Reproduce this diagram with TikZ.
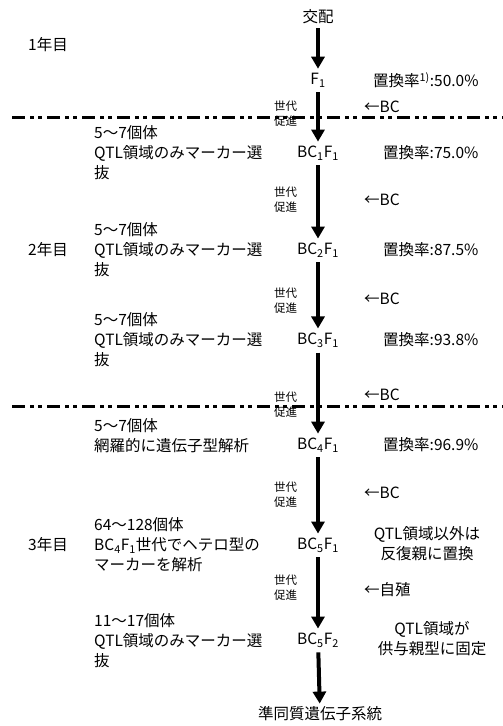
\documentclass[tikz,border=0pt]{standalone}
\usepackage{fontspec}
\setmainfont{Noto Sans CJK JP}
\usetikzlibrary{arrows.meta}

\begin{document}
\begin{tikzpicture}[x=1pt, y=-1pt,
    every node/.style={font=\fontsize{15.5}{20}\selectfont, inner sep=1pt},
    gen/.style={inner sep=2pt},
    note/.style={anchor=west, align=left},
    adv/.style={anchor=west, align=left, font=\fontsize{11.5}{15}\selectfont},
    flow/.style={line width=4pt, -{Triangle[width=13pt,length=12pt]}, shorten <=3pt, shorten >=2pt},
    yearline/.style={line width=3pt, dash pattern=on 13pt off 5pt on 4pt off 4pt on 4pt off 5pt}]
    \useasboundingbox (0,0) rectangle (503,726);
    \coordinate (line1a) at (12,117);
    \coordinate (line1b) at (503,117);
    \coordinate (line2a) at (12,406);
    \coordinate (line2b) at (503,406);
    \draw[yearline] (line1a) -- (line1b);
    \draw[yearline] (line2a) -- (line2b);

    \node (cross) at (318,17) {交配};
    \node[gen] (f1) at (318,80) {F\textsubscript{1}};
    \node[gen] (bc1) at (318,153) {BC\textsubscript{1}F\textsubscript{1}};
    \node[gen] (bc2) at (318,250) {BC\textsubscript{2}F\textsubscript{1}};
    \node[gen] (bc3) at (318,340) {BC\textsubscript{3}F\textsubscript{1}};
    \node[gen] (bc4) at (318,445) {BC\textsubscript{4}F\textsubscript{1}};
    \node[gen] (bc5) at (318,545) {BC\textsubscript{5}F\textsubscript{1}};
    \node[gen] (bc5f2) at (318,640) {BC\textsubscript{5}F\textsubscript{2}};
    \node (nil) at (320,714) {準同質遺伝子系統};

    \node[note] (year1) at (27,45) {1年目};
    \node[note] (year2) at (27,250) {2年目};
    \node[note] (year3) at (27,545) {3年目};

    \node[note] (sel1) at (93,153) {5〜7個体\\QTL領域のみマーカー選\\抜};
    \node[note] (sel2) at (93,250) {5〜7個体\\QTL領域のみマーカー選\\抜};
    \node[note] (sel3) at (93,340) {5〜7個体\\QTL領域のみマーカー選\\抜};
    \node[note] (sel4) at (93,436) {5〜7個体\\網羅的に遺伝子型解析};
    \node[note] (sel5) at (93,545) {64〜128個体\\BC\textsubscript{4}F\textsubscript{1}世代でヘテロ型の\\マーカーを解析};
    \node[note] (sel6) at (93,641) {11〜17個体\\QTL領域のみマーカー選\\抜};

    \node[note] (rate0) at (372,80) {置換率\textsuperscript{1)}:50.0\%};
    \node[note] (rate1) at (382,153) {置換率:75.0\%};
    \node[note] (rate2) at (382,250) {置換率:87.5\%};
    \node[note] (rate3) at (382,340) {置換率:93.8\%};
    \node[note] (rate4) at (382,445) {置換率:96.9\%};
    \node[align=center] (fix1) at (427,544) {QTL領域以外は\\反復親に置換};
    \node[align=center] (fix2) at (432,639) {QTL領域が\\供与親型に固定};

    \node[adv] (adv1) at (273,114) {世代\\促進};
    \node[adv] (adv2) at (273,200) {世代\\促進};
    \node[adv] (adv3) at (273,301) {世代\\促進};
    \node[adv] (adv4) at (273,405) {世代\\促進};
    \node[adv] (adv5) at (273,495) {世代\\促進};
    \node[adv] (adv6) at (273,588) {世代\\促進};

    \node[note] (back1) at (363,107) {←BC};
    \node[note] (back2) at (363,200) {←BC};
    \node[note] (back3) at (363,299) {←BC};
    \node[note] (back4) at (363,395) {←BC};
    \node[note] (back5) at (363,493) {←BC};
    \node[note] (self) at (363,590) {←自殖};

    \draw[flow] (cross) -- (f1);
    \draw[flow] (f1) -- (bc1);
    \draw[flow] (bc1) -- (bc2);
    \draw[flow] (bc2) -- (bc3);
    \draw[flow] (bc3) -- (bc4);
    \draw[flow] (bc4) -- (bc5);
    \draw[flow] (bc5) -- (bc5f2);
    \draw[flow] (bc5f2) -- (nil);
\end{tikzpicture}
\end{document}
